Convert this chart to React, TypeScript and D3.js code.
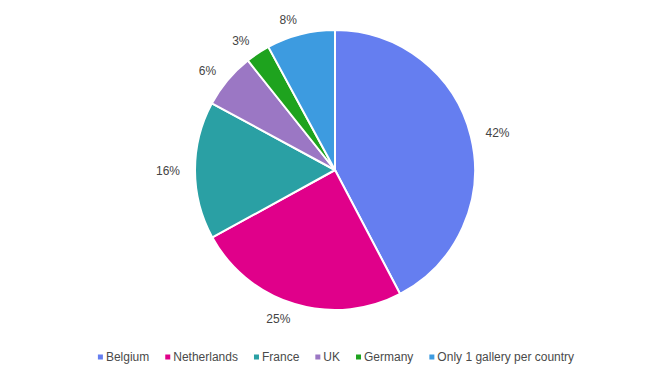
import React, { useEffect, useRef } from "react";
import * as d3 from "d3";

const categories = ["Belgium", "Netherlands", "France", "UK", "Germany", "Only 1 gallery per country"];
const shares = [42.3, 24.7, 15.9, 6.4, 2.8, 7.9];
const colors = ["#657ef0", "#e0008a", "#2aa0a4", "#9b77c4", "#1ea31e", "#3d9be0"];

const W = 668;
const H = 376;

export default function App() {
  const ref = useRef<SVGSVGElement>(null);
  useEffect(() => {
    const svg = d3.select(ref.current);
    svg.selectAll("*").remove();
    const cx = 335, cy = 170, r = 140, lr = 155;
    const data = categories.map((c, i) => ({ name: c, value: shares[i], color: colors[i] }));
    const total = d3.sum(shares);
    const pie = d3.pie<any>().value((d) => d.value).sort(null);
    const arcs = pie(data);
    const arc = d3.arc<any>().innerRadius(0).outerRadius(r);
    const g = svg.append("g").attr("transform", `translate(${cx},${cy})`);
    g.selectAll("path").data(arcs).enter().append("path")
      .attr("d", arc as any)
      .attr("fill", (d: any) => d.data.color)
      .attr("stroke", "#fff")
      .attr("stroke-width", 2)
      .attr("stroke-linejoin", "round");
    g.selectAll("text.lbl").data(arcs).enter().append("text")
      .attr("class", "lbl")
      .each(function (d: any) {
        const a = (d.startAngle + d.endAngle) / 2;
        const x = lr * Math.sin(a);
        const y = -lr * Math.cos(a);
        d3.select(this)
          .attr("x", x)
          .attr("y", y)
          .attr("dy", "0.35em")
          .attr("text-anchor", Math.sin(a) >= 0 ? "start" : "end")
          .text(Math.round((d.data.value / total) * 100) + "%");
      })
      .attr("font-family", "Liberation Sans, Arial, sans-serif")
      .attr("font-size", 12)
      .attr("fill", "#444");

    // legend
    const lg = svg.append("g");
    let x = 0;
    const gap = 16;
    data.forEach((d) => {
      const it = lg.append("g").attr("transform", `translate(${x},0)`);
      it.append("rect").attr("x", 0).attr("y", -2.5).attr("width", 5).attr("height", 5).attr("fill", d.color);
      const t = it.append("text").attr("x", 8).attr("dy", "0.35em")
        .attr("font-family", "Liberation Sans, Arial, sans-serif")
        .attr("font-size", 12).attr("fill", "#4a4a4a").text(d.name);
      const w = (t.node() as SVGTextElement).getComputedTextLength();
      x += 8 + w + gap;
    });
    const totalW = x - gap;
    lg.attr("transform", `translate(${(W - totalW) / 2 + 2},357)`);
  }, []);
  return (
    <svg ref={ref} width={W} height={H} style={{ display: "block", margin: -8 }} />
  );
}
